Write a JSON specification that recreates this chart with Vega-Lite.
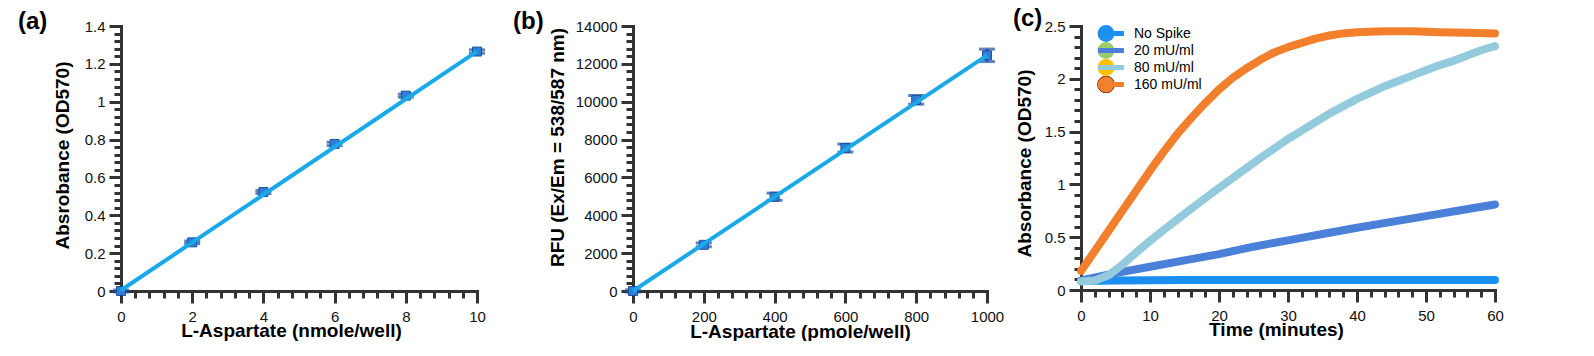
{
  "$schema": "https://vega.github.io/schema/vega-lite/v6.json",
  "autosize": {"type": "pad"},
  "padding": {"left": 18, "top": 7, "right": 0, "bottom": 0},
  "background": "white",
  "config": {
    "view": {"stroke": null},
    "axis": {
      "domainColor": "#333333", "domainWidth": 3, "domainCap": "square",
      "tickColor": "#333333", "tickWidth": 3, "grid": false,
      "labelFont": "Liberation Sans", "labelFontSize": 15, "labelColor": "#111111",
      "labelFlush": false, "labelOverlap": false,
      "titleFont": "Liberation Sans", "titleFontSize": 19, "titleFontWeight": "bold", "titleColor": "#000000"
    },
    "title": {"font": "Liberation Sans", "fontSize": 24, "fontWeight": "bold", "color": "#000000", "anchor": "start", "frame": "group", "offset": 0, "baseline": "alphabetic"}
  },
  "datasets": {
    "a": [
      {"x": 0, "y": 0.0, "lo": -0.005, "hi": 0.005},
      {"x": 2, "y": 0.257, "lo": 0.25, "hi": 0.264},
      {"x": 4, "y": 0.523, "lo": 0.515, "hi": 0.531},
      {"x": 6, "y": 0.777, "lo": 0.768, "hi": 0.786},
      {"x": 8, "y": 1.032, "lo": 1.024, "hi": 1.04},
      {"x": 10, "y": 1.265, "lo": 1.256, "hi": 1.274}
    ],
    "afit": [{"x": 0, "y": 0.004}, {"x": 10, "y": 1.266}],
    "b": [
      {"x": 0, "y": 0, "lo": -60, "hi": 60},
      {"x": 200, "y": 2440, "lo": 2340, "hi": 2540},
      {"x": 400, "y": 4980, "lo": 4790, "hi": 5170},
      {"x": 600, "y": 7550, "lo": 7340, "hi": 7760},
      {"x": 800, "y": 10100, "lo": 9870, "hi": 10330},
      {"x": 1000, "y": 12450, "lo": 12120, "hi": 12780}
    ],
    "bfit": [{"x": 0, "y": 0}, {"x": 1000, "y": 12450}],
    "c": [
      {"t": 0, "v": 0.085, "series": "No Spike"},
      {"t": 5, "v": 0.09, "series": "No Spike"},
      {"t": 10, "v": 0.092, "series": "No Spike"},
      {"t": 15, "v": 0.094, "series": "No Spike"},
      {"t": 20, "v": 0.095, "series": "No Spike"},
      {"t": 30, "v": 0.095, "series": "No Spike"},
      {"t": 40, "v": 0.095, "series": "No Spike"},
      {"t": 50, "v": 0.095, "series": "No Spike"},
      {"t": 60, "v": 0.095, "series": "No Spike"},
      {"t": 0, "v": 0.09, "series": "20 mU/ml"},
      {"t": 5, "v": 0.16, "series": "20 mU/ml"},
      {"t": 10, "v": 0.22, "series": "20 mU/ml"},
      {"t": 15, "v": 0.28, "series": "20 mU/ml"},
      {"t": 20, "v": 0.34, "series": "20 mU/ml"},
      {"t": 25, "v": 0.41, "series": "20 mU/ml"},
      {"t": 30, "v": 0.47, "series": "20 mU/ml"},
      {"t": 35, "v": 0.53, "series": "20 mU/ml"},
      {"t": 40, "v": 0.59, "series": "20 mU/ml"},
      {"t": 45, "v": 0.645, "series": "20 mU/ml"},
      {"t": 50, "v": 0.7, "series": "20 mU/ml"},
      {"t": 55, "v": 0.755, "series": "20 mU/ml"},
      {"t": 60, "v": 0.81, "series": "20 mU/ml"},
      {"t": 0, "v": 0.08, "series": "80 mU/ml"},
      {"t": 2, "v": 0.09, "series": "80 mU/ml"},
      {"t": 4, "v": 0.14, "series": "80 mU/ml"},
      {"t": 6, "v": 0.24, "series": "80 mU/ml"},
      {"t": 8, "v": 0.355, "series": "80 mU/ml"},
      {"t": 10, "v": 0.465, "series": "80 mU/ml"},
      {"t": 12, "v": 0.57, "series": "80 mU/ml"},
      {"t": 14, "v": 0.67, "series": "80 mU/ml"},
      {"t": 16, "v": 0.77, "series": "80 mU/ml"},
      {"t": 18, "v": 0.87, "series": "80 mU/ml"},
      {"t": 20, "v": 0.965, "series": "80 mU/ml"},
      {"t": 22, "v": 1.06, "series": "80 mU/ml"},
      {"t": 24, "v": 1.155, "series": "80 mU/ml"},
      {"t": 26, "v": 1.25, "series": "80 mU/ml"},
      {"t": 28, "v": 1.34, "series": "80 mU/ml"},
      {"t": 30, "v": 1.43, "series": "80 mU/ml"},
      {"t": 32, "v": 1.51, "series": "80 mU/ml"},
      {"t": 34, "v": 1.59, "series": "80 mU/ml"},
      {"t": 36, "v": 1.67, "series": "80 mU/ml"},
      {"t": 38, "v": 1.74, "series": "80 mU/ml"},
      {"t": 40, "v": 1.81, "series": "80 mU/ml"},
      {"t": 42, "v": 1.87, "series": "80 mU/ml"},
      {"t": 44, "v": 1.93, "series": "80 mU/ml"},
      {"t": 46, "v": 1.98, "series": "80 mU/ml"},
      {"t": 48, "v": 2.03, "series": "80 mU/ml"},
      {"t": 50, "v": 2.08, "series": "80 mU/ml"},
      {"t": 52, "v": 2.13, "series": "80 mU/ml"},
      {"t": 54, "v": 2.17, "series": "80 mU/ml"},
      {"t": 56, "v": 2.22, "series": "80 mU/ml"},
      {"t": 58, "v": 2.27, "series": "80 mU/ml"},
      {"t": 60, "v": 2.31, "series": "80 mU/ml"},
      {"t": 0, "v": 0.18, "series": "160 mU/ml"},
      {"t": 2, "v": 0.37, "series": "160 mU/ml"},
      {"t": 4, "v": 0.56, "series": "160 mU/ml"},
      {"t": 6, "v": 0.75, "series": "160 mU/ml"},
      {"t": 8, "v": 0.94, "series": "160 mU/ml"},
      {"t": 10, "v": 1.13, "series": "160 mU/ml"},
      {"t": 12, "v": 1.31, "series": "160 mU/ml"},
      {"t": 14, "v": 1.48, "series": "160 mU/ml"},
      {"t": 16, "v": 1.63, "series": "160 mU/ml"},
      {"t": 18, "v": 1.77, "series": "160 mU/ml"},
      {"t": 20, "v": 1.9, "series": "160 mU/ml"},
      {"t": 22, "v": 2.01, "series": "160 mU/ml"},
      {"t": 24, "v": 2.1, "series": "160 mU/ml"},
      {"t": 26, "v": 2.18, "series": "160 mU/ml"},
      {"t": 28, "v": 2.25, "series": "160 mU/ml"},
      {"t": 30, "v": 2.3, "series": "160 mU/ml"},
      {"t": 32, "v": 2.34, "series": "160 mU/ml"},
      {"t": 34, "v": 2.38, "series": "160 mU/ml"},
      {"t": 36, "v": 2.41, "series": "160 mU/ml"},
      {"t": 38, "v": 2.43, "series": "160 mU/ml"},
      {"t": 40, "v": 2.44, "series": "160 mU/ml"},
      {"t": 44, "v": 2.45, "series": "160 mU/ml"},
      {"t": 48, "v": 2.45, "series": "160 mU/ml"},
      {"t": 52, "v": 2.44, "series": "160 mU/ml"},
      {"t": 56, "v": 2.435, "series": "160 mU/ml"},
      {"t": 60, "v": 2.43, "series": "160 mU/ml"}
    ]
  },
  "spacing": 156,
  "bounds": "flush",
  "hconcat": [
    {
      "width": 356,
      "height": 265,
      "title": {"text": "(a)", "dx": -103, "dy": 19},
      "resolve": {"scale": {"x": "independent", "y": "independent"}},
      "layer": [
        {
          "data": {"name": "a"},
          "mark": {"type": "errorbar", "color": "#1d4f9f", "ticks": {"size": 16, "thickness": 3}, "rule": {"strokeWidth": 3}},
          "encoding": {
            "x": {"field": "x", "type": "quantitative", "scale": {"domain": [0, 10], "nice": false, "zero": false},
              "axis": {"orient": "bottom", "values": [0, 2, 4, 6, 8, 10], "tickSize": 12, "labelPadding": 6, "format": "~f",
                "title": "L-Aspartate (nmole/well)", "titleX": 170, "titleY": 45, "titleBaseline": "alphabetic"}},
            "y": {"field": "lo", "type": "quantitative", "scale": {"domain": [0, 1.4], "nice": false, "zero": false},
              "axis": {"orient": "left", "values": [0, 0.2, 0.4, 0.6, 0.8, 1, 1.2, 1.4], "tickSize": 12, "labelPadding": 4, "format": "~f",
                "title": "Absrobance (OD570)", "titleX": -53, "titleY": 129, "titleBaseline": "alphabetic", "titleAngle": 270}},
            "y2": {"field": "hi"}
          }
        },
        {
          "data": {"name": "a"},
          "mark": {"type": "square", "size": 80, "color": "#2f7fd6", "opacity": 1, "stroke": "#1d4f9f", "strokeWidth": 1},
          "encoding": {
            "x": {"field": "x", "type": "quantitative", "scale": {"domain": [0, 10], "nice": false, "zero": false},
              "axis": {"orient": "bottom", "values": [0, 0.4, 0.8, 1.2, 1.6, 2, 2.4, 2.8, 3.2, 3.6, 4, 4.4, 4.8, 5.2, 5.6, 6, 6.4, 6.8, 7.2, 7.6, 8, 8.4, 8.8, 9.2, 9.6, 10], "ticks": true, "tickSize": 7, "labelExpr": "''", "domain": false, "title": ""}},
            "y": {"field": "y", "type": "quantitative", "scale": {"domain": [0, 1.4], "nice": false, "zero": false},
              "axis": {"orient": "left", "values": [0, 0.04, 0.08, 0.12, 0.16, 0.2, 0.24, 0.28, 0.32, 0.36, 0.4, 0.44, 0.48, 0.52, 0.56, 0.6, 0.64, 0.68, 0.72, 0.76, 0.8, 0.84, 0.88, 0.92, 0.96, 1, 1.04, 1.08, 1.12, 1.16, 1.2, 1.24, 1.28, 1.32, 1.36, 1.4], "ticks": true, "tickSize": 7, "labelExpr": "''", "domain": false, "title": ""}}
          }
        },
        {
          "data": {"name": "afit"},
          "mark": {"type": "line", "color": "#19a9e8", "strokeWidth": 4},
          "encoding": {
            "x": {"field": "x", "type": "quantitative", "scale": {"domain": [0, 10], "nice": false, "zero": false}, "axis": null},
            "y": {"field": "y", "type": "quantitative", "scale": {"domain": [0, 1.4], "nice": false, "zero": false}, "axis": null}
          }
        }
      ]
    },
    {
      "spacing": 94,
      "bounds": "flush",
      "hconcat": [
        {
          "width": 354,
          "height": 265,
          "title": {"text": "(b)", "dx": -120, "dy": 19},
          "resolve": {"scale": {"x": "independent", "y": "independent"}},
          "layer": [
            {
              "data": {"name": "b"},
              "mark": {"type": "errorbar", "color": "#1d4f9f", "ticks": {"size": 16, "thickness": 3}, "rule": {"strokeWidth": 3}},
              "encoding": {
                "x": {"field": "x", "type": "quantitative", "scale": {"domain": [0, 1000], "nice": false, "zero": false},
                  "axis": {"orient": "bottom", "values": [0, 200, 400, 600, 800, 1000], "tickSize": 12, "labelPadding": 6, "format": "d",
                    "title": "L-Aspartate (pmole/well)", "titleX": 167, "titleY": 46, "titleBaseline": "alphabetic"}},
                "y": {"field": "lo", "type": "quantitative", "scale": {"domain": [0, 14000], "nice": false, "zero": false},
                  "axis": {"orient": "left", "values": [0, 2000, 4000, 6000, 8000, 10000, 12000, 14000], "tickSize": 12, "labelPadding": 4, "format": "d",
                    "title": "RFU (Ex/Em = 538/587 nm)", "titleX": -70, "titleY": 121, "titleBaseline": "alphabetic", "titleAngle": 270}},
                "y2": {"field": "hi"}
              }
            },
            {
              "data": {"name": "b"},
              "mark": {"type": "square", "size": 80, "color": "#2f7fd6", "opacity": 1, "stroke": "#1d4f9f", "strokeWidth": 1},
              "encoding": {
                "x": {"field": "x", "type": "quantitative", "scale": {"domain": [0, 1000], "nice": false, "zero": false},
                  "axis": {"orient": "bottom", "values": [0, 40, 80, 120, 160, 200, 240, 280, 320, 360, 400, 440, 480, 520, 560, 600, 640, 680, 720, 760, 800, 840, 880, 920, 960, 1000], "ticks": true, "tickSize": 7, "labels": false, "domainOpacity": 0, "title": ""}},
                "y": {"field": "y", "type": "quantitative", "scale": {"domain": [0, 14000], "nice": false, "zero": false},
                  "axis": {"orient": "left", "values": [0, 400, 800, 1200, 1600, 2000, 2400, 2800, 3200, 3600, 4000, 4400, 4800, 5200, 5600, 6000, 6400, 6800, 7200, 7600, 8000, 8400, 8800, 9200, 9600, 10000, 10400, 10800, 11200, 11600, 12000, 12400, 12800, 13200, 13600, 14000], "ticks": true, "tickSize": 7, "labels": false, "domainOpacity": 0, "title": ""}}
              }
            },
            {
              "data": {"name": "bfit"},
              "mark": {"type": "line", "color": "#19a9e8", "strokeWidth": 4},
              "encoding": {
                "x": {"field": "x", "type": "quantitative", "scale": {"domain": [0, 1000], "nice": false, "zero": false}, "axis": null},
                "y": {"field": "y", "type": "quantitative", "scale": {"domain": [0, 14000], "nice": false, "zero": false}, "axis": null}
              }
            }
          ]
        },
        {
          "width": 414,
          "height": 264,
          "title": {"text": "(c)", "dx": -68, "dy": 16},
          "data": {"name": "c"},
          "resolve": {"scale": {"x": "independent", "y": "independent"}},
          "layer": [
            {
              "mark": {"type": "point", "filled": true, "size": 14, "opacity": 1, "strokeWidth": 0},
              "encoding": {
                "x": {"field": "t", "type": "quantitative", "scale": {"domain": [0, 60], "nice": false, "zero": false},
                  "axis": {"orient": "bottom", "values": [0, 2, 4, 6, 8, 10, 12, 14, 16, 18, 20, 22, 24, 26, 28, 30, 32, 34, 36, 38, 40, 42, 44, 46, 48, 50, 52, 54, 56, 58, 60], "ticks": true, "tickSize": 7, "labelExpr": "''", "domainOpacity": 0, "title": ""}},
                "y": {"field": "v", "type": "quantitative", "scale": {"domain": [0, 2.5], "nice": false, "zero": false},
                  "axis": {"orient": "left", "values": [0, 0.1, 0.2, 0.3, 0.4, 0.5, 0.6, 0.7, 0.8, 0.9, 1, 1.1, 1.2, 1.3, 1.4, 1.5, 1.6, 1.7, 1.8, 1.9, 2, 2.1, 2.2, 2.3, 2.4, 2.5], "ticks": true, "tickSize": 7, "labelExpr": "''", "domainOpacity": 0, "title": ""}},
                "fill": {"field": "series", "type": "nominal",
                  "scale": {"domain": ["No Spike", "20 mU/ml", "80 mU/ml", "160 mU/ml"], "range": ["#1f8ff0", "#9acb6c", "#ffc000", "#f0812f"]},
                  "legend": {"orient": "none", "legendX": 976, "legendY": -1, "title": null, "padding": 0, "clipHeight": 17,
                    "labelFont": "Liberation Sans", "labelFontSize": 14, "labelColor": "#000000", "labelOffset": 19,
                    "rowPadding": 0, "symbolType": "circle", "symbolSize": 284, "symbolOpacity": 1, "symbolStrokeWidth": 1,
                    "encode": {"symbols": {"update": {"stroke": {"signal": "datum.label === '160 mU/ml' ? '#8a2b12' : 'transparent'"}}}}}}
              }
            },
            {
              "mark": {"type": "line", "strokeWidth": 8, "strokeCap": "round", "strokeJoin": "round"},
              "encoding": {
                "x": {"field": "t", "type": "quantitative", "scale": {"domain": [0, 60], "nice": false, "zero": false},
                  "axis": {"orient": "bottom", "values": [0, 10, 20, 30, 40, 50, 60], "tickSize": 12, "labelPadding": 6, "format": "d",
                    "title": "Time (minutes)", "titleX": 195, "titleY": 45, "titleBaseline": "alphabetic"}},
                "y": {"field": "v", "type": "quantitative", "scale": {"domain": [0, 2.5], "nice": false, "zero": false},
                  "axis": {"orient": "left", "values": [0, 0.5, 1, 1.5, 2, 2.5], "tickSize": 12, "labelPadding": 4, "format": "~f",
                    "title": "Absorbance (OD570)", "titleX": -51, "titleY": 137, "titleBaseline": "alphabetic", "titleAngle": 270}},
                "color": {"field": "series", "type": "nominal", "sort": ["No Spike", "20 mU/ml", "80 mU/ml", "160 mU/ml"],
                  "scale": {"range": ["#1a8fef", "#4a80d8", "#94cbdc", "#f27f2b"]},
                  "legend": {"orient": "none", "legendX": 977, "legendY": -1, "title": null, "padding": 0, "clipHeight": 17,
                    "labelFont": "Liberation Sans", "labelFontSize": 14, "labelOpacity": 0, "labelOffset": 19,
                    "rowPadding": 0, "symbolType": "M-2.9,0L2.9,0", "symbolSize": 144, "symbolStrokeWidth": 5, "symbolOpacity": 1}}
              }
            }
          ]
        }
      ]
    }
  ]
}
